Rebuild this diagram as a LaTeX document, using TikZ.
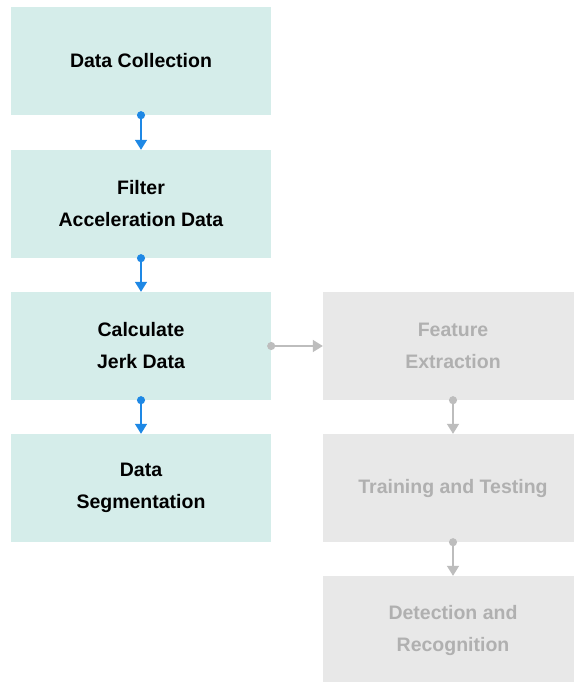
\documentclass[tikz,border=0pt]{standalone}
\usepackage{fontspec}
\setmainfont{Liberation Sans}
\usepackage{tikz}
\usetikzlibrary{arrows.meta}
\definecolor{stepfill}{HTML}{D5EDEA}
\definecolor{greyfill}{HTML}{E8E8E8}
\definecolor{greytext}{HTML}{B0B0B0}
\definecolor{arrowblue}{HTML}{1E88E5}
\definecolor{arrowgrey}{HTML}{BDBDBD}

\begin{document}
\begin{tikzpicture}[x=1pt, y=1pt,
  every node/.style={font=\bfseries\fontsize{19.5}{32}\selectfont, align=center},
  donebox/.style={fill=stepfill, minimum width=260pt, minimum height=108pt, inner sep=0pt},
  todobox/.style={fill=greyfill, text=greytext, minimum width=260pt, minimum height=108pt, inner sep=0pt},
  doneflow/.style={arrowblue, line width=1.5pt, {Circle[length=8pt]}-{Triangle[width=12pt, length=10pt]}, shorten <=-4pt},
  todoflow/.style={arrowgrey, line width=1.5pt, {Circle[length=8pt]}-{Triangle[width=12pt, length=10pt]}, shorten <=-4pt}]
  \useasboundingbox (0,0) rectangle (573,-682);
  \fill[white] (0,0) rectangle (573,-682);
  \node[donebox] (collect) at (141,-61) {Data Collection};
  \node[donebox] (filter) at (141,-204) {Filter\\Acceleration Data};
  \node[donebox] (jerk) at (141,-346) {Calculate\\Jerk Data};
  \node[donebox] (segment) at (141,-488) {Data\\Segmentation};
  \node[todobox] (feature) at (453,-346) {Feature\\Extraction};
  \node[todobox] (train) at (453,-488) {Training and Testing};
  \node[todobox] (detect) at (453,-630) {Detection and\\Recognition};
  % arrows
  \draw[doneflow] (collect) -- (filter);
  \draw[doneflow] (filter) -- (jerk);
  \draw[doneflow] (jerk) -- (segment);
  \draw[todoflow] (jerk) -- (feature);
  \draw[todoflow] (feature) -- (train);
  \draw[todoflow] (train) -- (detect);
\end{tikzpicture}
\end{document}
